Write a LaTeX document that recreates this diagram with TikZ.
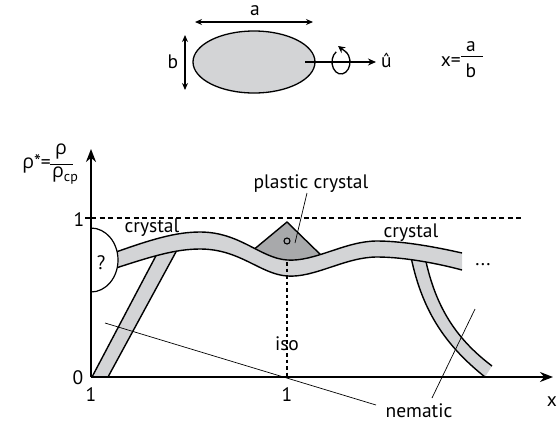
\documentclass[tikz,border=0pt]{standalone}
\usepackage{fontspec}
\setmainfont{PT Sans}
\newfontfamily\grk{Open Sans}
\usetikzlibrary{arrows.meta,shapes.geometric}
\definecolor{bandgray}{RGB}{211,212,214}
\definecolor{trigray}{RGB}{168,169,171}
\begin{document}
\begin{tikzpicture}[x=1pt,y=-1pt,
  font=\fontsize{19.5}{22}\selectfont,
  lbl/.style={inner sep=0pt,anchor=base},
  bandline/.style={line width=1.4pt},
  axisline/.style={line width=1.8pt,-{Stealth[length=13pt,width=10pt]}},
  dimline/.style={line width=1.3pt,{Stealth[length=7pt,width=6pt]}-{Stealth[length=7pt,width=6pt]}},
  lead/.style={line width=0.7pt},
  dashline/.style={line width=1.2pt,dash pattern=on 5pt off 3.5pt},
  dotline/.style={line width=1.8pt,dash pattern=on 3.5pt off 3pt}]
\useasboundingbox (0,0) rectangle (559,424);

% ---------- top sketch ----------
\node[draw,line width=1.3pt,fill=bandgray,ellipse,minimum width=122pt,minimum height=62pt,inner sep=0pt] (ell) at (254,62) {};
\coordinate (aL) at (195,22); \coordinate (aR) at (313,22);
\draw[dimline] (aL) -- (aR);
\node[lbl] (alab) at (255,15) {a};
\coordinate (bT) at (185,35); \coordinate (bB) at (185,90);
\draw[dimline] (bT) -- (bB);
\node[lbl] (blab) at (173,68) {b};
\coordinate (uS) at (305,62); \coordinate (uE) at (376,62);
\draw[line width=1.3pt,-{Stealth[length=8pt,width=7pt]}] (uS) -- (uE);
\node[lbl,anchor=base west] (ulab) at (381,67) {û};
\coordinate (rotc) at (341,62); \coordinate (rotTip) at (338,46);
\draw[line width=1.3pt,-{Stealth[length=7pt,width=7pt]}] (rotc) ++(-122:9 and 12)
  arc[start angle=-122,end angle=-420,x radius=9,y radius=12] -- (rotTip);
\node[lbl,anchor=base east] (xeq) at (461,66) {x=};
\coordinate (fbL) at (461,56); \coordinate (fbR) at (483,56);
\draw[line width=0.8pt] (fbL) -- (fbR);
\node[lbl] (fa) at (471,51) {a};
\node[lbl] (fb) at (471,77) {b};

% ---------- y label ----------
\node[lbl,anchor=base east] (rhostar) at (51,168) {{\grk ρ}*=};
\coordinate (ybL) at (50,164); \coordinate (ybR) at (73,164);
\draw[line width=0.8pt] (ybL) -- (ybR);
\node[lbl] (rnum) at (61,154) {\grk ρ};
\node[lbl,anchor=base west] (rden) at (52,177) {{\grk ρ}\raisebox{-4pt}{\fontsize{14}{16}\selectfont cp}};

% ---------- nematic bands ----------
\coordinate (nl1) at (92,377); \coordinate (nl2) at (159,250);
\coordinate (nr1) at (108,377); \coordinate (nr2) at (177,250);
\fill[bandgray] (nl1) -- (nl2) -- (nr2) -- (nr1) -- cycle;
\draw[bandline] (nl1) -- (nl2);
\draw[bandline] (nr1) -- (nr2);

\coordinate (ml1) at (410,252); \coordinate (ml2) at (485,377);
\coordinate (mr1) at (424,252); \coordinate (mr2) at (492,366);
\fill[bandgray] (ml1) .. controls (421,310) and (445,345) .. (ml2) -- (mr2)
  .. controls (455,338) and (434,305) .. (mr1) -- cycle;
\draw[bandline] (ml1) .. controls (421,310) and (445,345) .. (ml2);
\draw[bandline] (mr1) .. controls (434,305) and (455,338) .. (mr2);

% ---------- plastic crystal triangle ----------
\coordinate (tA) at (287,222);
\filldraw[fill=trigray,bandline] (246,256) -- (tA) -- (324,258) -- (287,268) -- cycle;

% ---------- crystal band ----------
\fill[bandgray] (116,252) .. controls (150,240) and (175,232) .. (200,232)
  .. controls (240,232) and (260,258) .. (287,260)
  .. controls (315,262) and (345,241) .. (377,241)
  .. controls (405,241) and (440,248) .. (462,253)
  -- (462,270)
  .. controls (440,264) and (405,257) .. (377,257)
  .. controls (345,257) and (315,278) .. (287,276)
  .. controls (260,274) and (240,249) .. (200,249)
  .. controls (175,249) and (150,257) .. (116,268) -- cycle;
\draw[bandline] (116,252) .. controls (150,240) and (175,232) .. (200,232)
  .. controls (240,232) and (260,258) .. (287,260)
  .. controls (315,262) and (345,241) .. (377,241)
  .. controls (405,241) and (440,248) .. (462,253);
\draw[bandline] (116,268) .. controls (150,257) and (175,249) .. (200,249)
  .. controls (240,249) and (260,274) .. (287,276)
  .. controls (315,278) and (345,257) .. (377,257)
  .. controls (405,257) and (440,264) .. (462,270);
\node[circle,draw,line width=1.1pt,inner sep=0pt,minimum size=6pt] (pcdot) at (287,241) {};

% ---------- "?" region ----------
\coordinate (qT) at (91,228);
\filldraw[fill=white,line width=1.2pt] (qT) arc[start angle=-90,end angle=90,x radius=27,y radius=32];
\node[lbl] (qlab) at (101,269) {?};

% ---------- guide lines ----------
\coordinate (oneY) at (91,218); \coordinate (dashEnd) at (522,218);
\draw[dashline] (oneY) -- (dashEnd);
\coordinate (isoTop) at (287,262); \coordinate (isoBot) at (287,377);
\draw[dotline] (isoTop) -- (isoBot);

% ---------- axes ----------
\coordinate (O) at (91,377);
\coordinate (yTip) at (91,149);
\coordinate (xTip) at (553,377);
\draw[axisline] (O) -- (yTip);
\draw[axisline] (O) -- (xTip);
\coordinate (tickL) at (85,218);
\draw[line width=1.5pt] (tickL) -- (oneY);

% ---------- labels ----------
\node[lbl] (ylab1) at (79,226) {1};
\node[lbl] (ylab0) at (78,384) {0};
\node[lbl] (xlab1a) at (91,401) {1};
\node[lbl] (xlab1b) at (287,401) {1};
\node[lbl] (xlab) at (552,406) {x};
\node[lbl] (iso) at (287,350) {iso};
\node[lbl] (pclab) at (311,188) {plastic crystal};
\node[lbl] (crL) at (152,232) {crystal};
\node[lbl] (crR) at (411,237) {crystal};
\node[lbl] (dots) at (483,265) {...};
\node[lbl] (nem) at (419,417) {nematic};

% ---------- leader lines ----------
\coordinate (pcS) at (307,193); \coordinate (pcE) at (295,243);
\draw[lead] (pcS) -- (pcE);
\coordinate (n1S) at (376,405); \coordinate (n1E) at (105,323);
\draw[lead] (n1S) -- (n1E);
\coordinate (n2S) at (432,398); \coordinate (n2E) at (475,309);
\draw[lead] (n2S) -- (n2E);
\end{tikzpicture}
\end{document}
